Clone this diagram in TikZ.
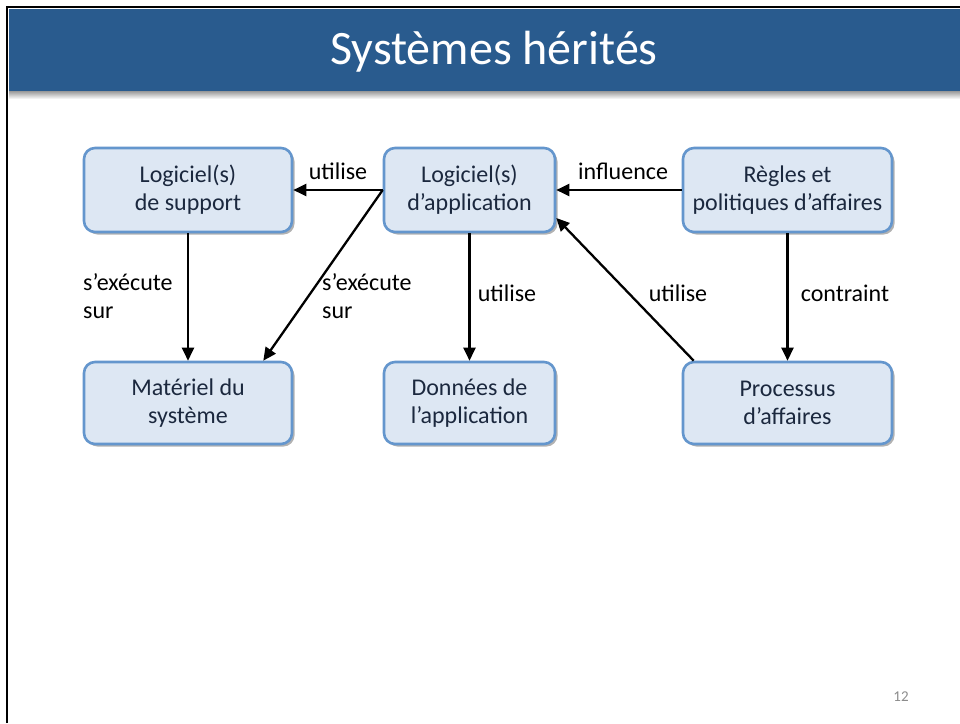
\documentclass[tikz,border=0pt]{standalone}
\usepackage{fontspec}
\setmainfont{Carlito}
\usetikzlibrary{shadows,arrows.meta}
\definecolor{titleblue}{RGB}{41,91,142}
\definecolor{boxfill}{RGB}{221,231,243}
\definecolor{boxline}{RGB}{100,150,205}
\definecolor{boxtext}{RGB}{27,40,62}
\definecolor{pagegray}{RGB}{140,140,140}
\tikzset{
  box/.style={draw=boxline, line width=2.6pt, fill=boxfill, rounded corners=11pt,
    inner sep=0pt, align=center, text=boxtext,
    font=\fontsize{24}{28}\selectfont,
    drop shadow={shadow xshift=2.5pt, shadow yshift=-2.5pt, opacity=0.3, fill=black}},
  conn/.style={line width=2.3pt, -{Triangle[length=13pt,width=12pt]}},
  lbl/.style={font=\fontsize{24}{28}\selectfont, text=black, inner sep=0pt, align=left}
}
\begin{document}
\begin{tikzpicture}[x=1pt,y=-1pt]
\useasboundingbox (0,0) rectangle (960,723);
\fill[white] (0,0) rectangle (960,723);
% title bar shadow and bar
\shade[top color=black!45, bottom color=white] (9,90) rectangle (960,99);
\fill[titleblue] (9,9) rectangle (960,91);
\draw[line width=2.4pt, black] (7,723) -- (7,7) -- (960,7);
\node[text=white, font=\fontsize{48}{56}\selectfont] (title) at (494,52) {Systèmes hérités};

% boxes
\node[box, minimum width=208pt, minimum height=84pt] (sup) at (188,190) {Logiciel(s)\\de support};
\node[box, minimum width=171pt, minimum height=84pt] (app) at (469.5,190) {Logiciel(s)\\d’application};
\node[box, minimum width=209pt, minimum height=84pt] (reg) at (787.5,190) {Règles et\\politiques d’affaires};
\node[box, minimum width=208pt, minimum height=82pt] (mat) at (188,403) {Matériel du\\système};
\node[box, minimum width=171pt, minimum height=82pt] (don) at (469.5,403) {Données de\\l’application};
\node[box, minimum width=209pt, minimum height=82pt] (pro) at (787.5,403) {Processus\\d’affaires};

% connectors
\draw[conn] (app.west) -- ([xshift=-30pt]mat.north east);
\draw[conn] (app.west) -- (sup.east);
\draw[conn] (sup.south) -- (mat.north);
\draw[conn] (app.south) -- (don.north);
\draw[conn] (reg.west) -- (app.east);
\draw[conn] ([xshift=12pt]pro.north west) -- ([yshift=-28pt]app.east);
\draw[conn] (reg.south) -- (pro.north);

% labels
\node[lbl] (l1) at (338,171) {utilise};
\node[lbl] (l2) at (623,171) {influence};
\node[lbl, anchor=west] (l3) at (83,296) {s’exécute\\sur};
\node[lbl, anchor=west] (l4) at (322,296) {s’exécute\\sur};
\node[lbl] (l5) at (507,293) {utilise};
\node[lbl] (l6) at (678,293) {utilise};
\node[lbl] (l7) at (845,293) {contraint};

\node[text=pagegray, font=\fontsize{15}{17}\selectfont] (pg) at (901,697) {12};
\end{tikzpicture}
\end{document}
